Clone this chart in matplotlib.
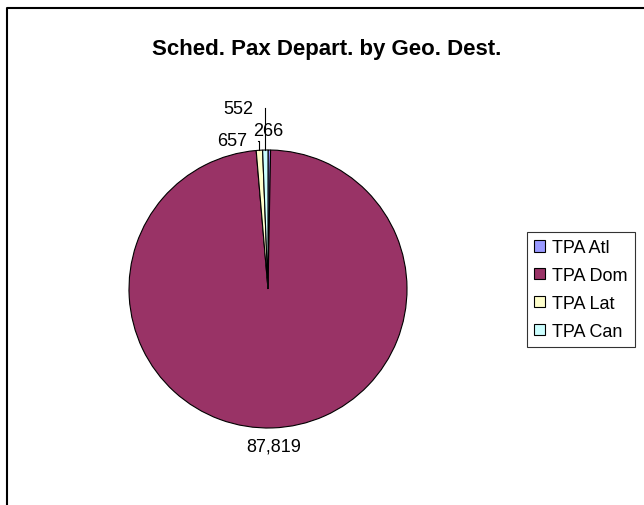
import matplotlib
matplotlib.use("Agg")
import matplotlib.pyplot as plt
import numpy as np
from matplotlib.lines import Line2D

plt.rcParams['font.family'] = ['Liberation Sans', 'DejaVu Sans']

title = "Sched. Pax Depart. by Geo. Dest."
categories = ["TPA Atl", "TPA Dom", "TPA Lat", "TPA Can"]
pax = [266, 87819, 657, 552]
colors = ["#9999FF", "#993366", "#FFFFCC", "#CCFFFF"]

# label placement (axes units, pie radius = 1); None means on the slice's own radius
label_pos = [(0.0, 1.14), None, (-0.26, 1.065), (-0.21, 1.30)]
leader = [False, False, True, True]

W, H = 644, 506
fig = plt.figure(figsize=(W / 100, H / 100), dpi=100)

# pie box in pixels: centre (268, 290), radius 139
cx, cy, r = 268, 290, 139
ax = fig.add_axes([(cx - r) / W, 1 - (cy + r) / H, 2 * r / W, 2 * r / H])
wedges, _ = ax.pie(pax, colors=colors, startangle=90, counterclock=False,
                   wedgeprops=dict(edgecolor="black", linewidth=0.8))
ax.set_xlim(-1, 1)
ax.set_ylim(-1, 1)
ax.set_aspect("equal")
ax.axis("off")

for w, v, pos, lead in zip(wedges, pax, label_pos, leader):
    mid = np.deg2rad((w.theta1 + w.theta2) / 2)
    txt = f"{v:,}"
    if pos is None:
        x, y = 1.13 * np.cos(mid), 1.13 * np.sin(mid)
    else:
        x, y = pos
    ax.text(x, y, txt, ha="center", va="center", fontsize=13, clip_on=False)
    if lead:
        ex, ey = np.cos(mid), np.sin(mid)
        half = len(txt) * 0.055
        ax.plot([x + half + 0.02, ex, ex], [y, y, ey], color="black",
                linewidth=0.8, clip_on=False)

fig.text(327 / W, 1 - 49 / H, title, ha="center", va="center",
         fontsize=16, fontweight="bold")

leg = fig.legend(wedges, categories, loc="upper left",
                 bbox_to_anchor=(527 / W, 1 - 233 / H), borderaxespad=0,
                 fontsize=13, frameon=True, fancybox=False, edgecolor="black",
                 handlelength=0.6, handleheight=0.6, handletextpad=0.4,
                 labelspacing=0.6, borderpad=0.4)
leg.get_frame().set_linewidth(0.8)

# chart area border (top and left edge visible)
fig.add_artist(Line2D([6.5 / W, 6.5 / W, 1], [0, 1 - 8.5 / H, 1 - 8.5 / H],
                      transform=fig.transFigure, color="black", linewidth=1.5))

fig.savefig("out.png", dpi=100)
